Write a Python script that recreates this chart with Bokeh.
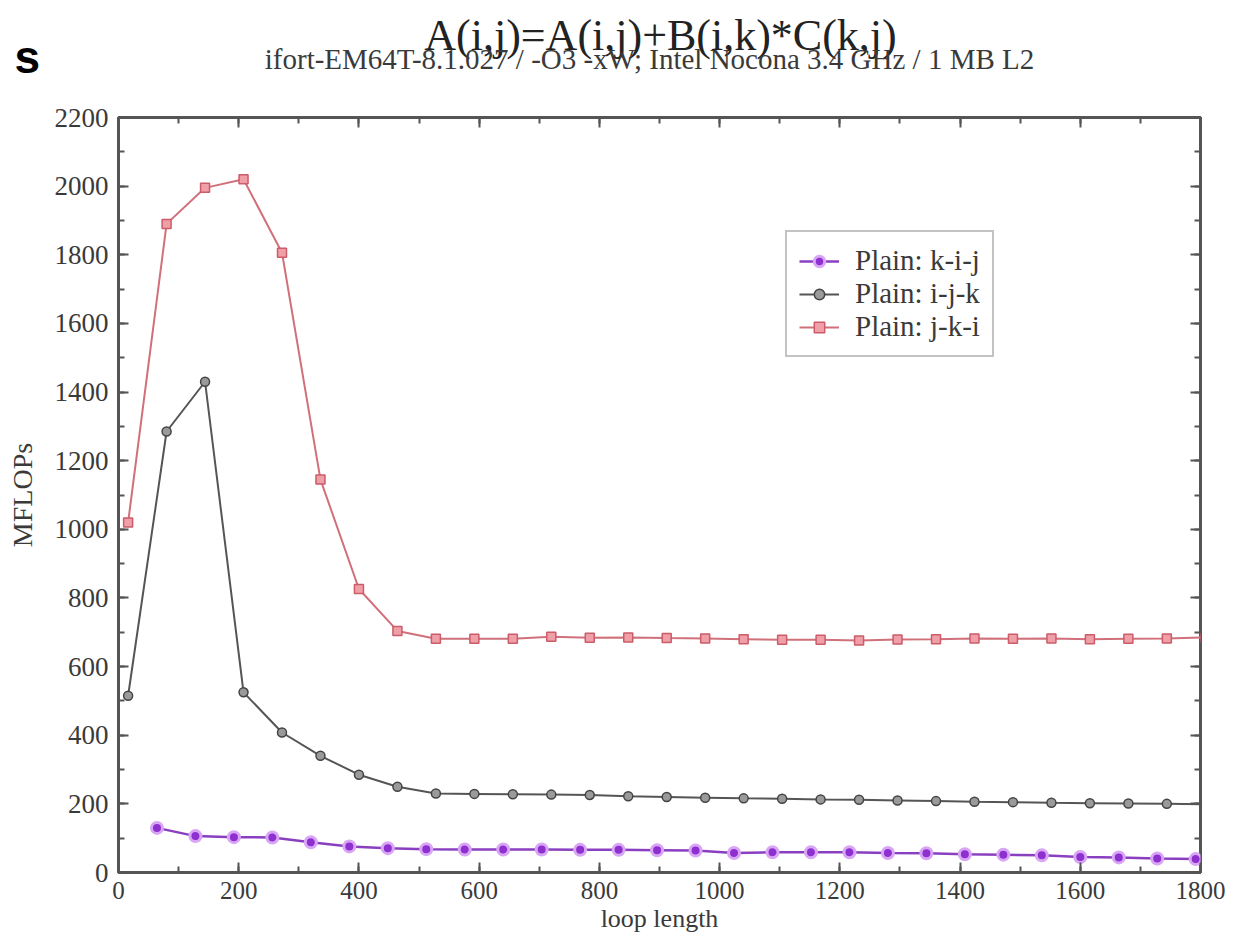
from bokeh.plotting import figure
from bokeh.layouts import column
from bokeh.models import (LinearAxis, Label, Legend, LegendItem, Range1d,
                          SingleIntervalTicker)
from bokeh.embed import file_html
from bokeh.resources import INLINE

# ---------------- data ----------------
x_kij = [64, 128, 192, 256, 320, 384, 448, 512, 576, 640, 704, 768, 832, 896,
         960, 1024, 1088, 1152, 1216, 1280, 1344, 1408, 1472, 1536, 1600, 1664, 1728, 1792]
y_kij = [130, 106, 103, 102, 88, 76, 71, 68, 67, 67, 67, 66, 66, 65,
         64, 57, 59, 59, 59, 57, 56, 53, 52, 50, 45, 44, 41, 39]

x_ijk = [16, 80, 144, 208, 272, 336, 400, 464, 528, 592, 656, 720, 784, 848, 912,
         976, 1040, 1104, 1168, 1232, 1296, 1360, 1424, 1488, 1552, 1616, 1680, 1744, 1808]
y_ijk = [515, 1285, 1430, 525, 408, 340, 285, 250, 230, 229, 228, 227, 226, 222, 220,
         218, 216, 215, 213, 212, 210, 208, 206, 205, 203, 202, 201, 200, 199]

x_jki = x_ijk
y_jki = [1020, 1890, 1995, 2020, 1806, 1145, 826, 704, 681, 681, 681, 687, 684, 685, 683,
         682, 680, 678, 678, 676, 679, 680, 682, 681, 682, 680, 681, 682, 685]

labels = ["Plain: k-i-j", "Plain: i-j-k", "Plain: j-k-i"]

title_text = "A(i,j)=A(i,j)+B(i,k)*C(k,j)"
subtitle_text = "ifort-EM64T-8.1.027 / -O3 -xW; Intel Nocona 3.4 GHz / 1 MB L2"
corner_text = "s"

SERIF = "Liberation Serif"
AXIS_COL = "#555555"
TXT_COL = "#3a3a3a"

W, H = 1236, 942
HEAD = 98                               # height of the header strip
FL, FR, FT, FB = 118, 1200, 117, 872   # frame edges in page pixels

# ---------------- header (title, subtitle, corner letter) ----------------
# the header's frame is aligned with the main frame (left edge at FL)
head = figure(width=W, height=HEAD, output_backend="svg", toolbar_location=None,
              x_axis_type=None, y_axis_type=None, x_range=Range1d(0, 1),
              y_range=Range1d(0, 1), min_border=0, outline_line_color=None,
              background_fill_color="white", border_fill_color="white")
head.add_layout(Label(x=660 - FL, y=HEAD - 35, x_units="screen", y_units="screen",
                      text=title_text, text_font=SERIF, text_font_size="44px",
                      text_align="center", text_baseline="middle", text_color="#222222"))
head.add_layout(Label(x=649 - FL, y=HEAD - 58, x_units="screen", y_units="screen",
                      text=subtitle_text, text_font=SERIF, text_font_size="29px",
                      text_align="center", text_baseline="middle", text_color=TXT_COL))
head.add_layout(Label(x=-78, y=HEAD - 56, x_units="screen", y_units="screen",
                      text=corner_text, text_font="Liberation Sans", text_font_size="46px",
                      text_font_style="bold", text_baseline="alphabetic", text_color="black"),
                "left")

# ---------------- main plot ----------------
p = figure(width=W, height=H - HEAD, output_backend="svg", toolbar_location=None,
           x_range=Range1d(0, 1800), y_range=Range1d(0, 2200), title=None,
           min_border_left=FL, min_border_right=W - FR, min_border_top=FT - HEAD,
           min_border_bottom=H - FB, background_fill_color="white",
           border_fill_color="white")
p.xgrid.visible = False
p.ygrid.visible = False
p.outline_line_color = AXIS_COL
p.outline_line_width = 3

def style_axis(ax, show_labels, size="27px"):
    ax.axis_line_color = None
    ax.major_tick_in = 10
    ax.major_tick_out = 0
    ax.minor_tick_in = 6
    ax.minor_tick_out = 0
    ax.major_tick_line_color = AXIS_COL
    ax.major_tick_line_width = 2
    ax.minor_tick_line_color = AXIS_COL
    ax.minor_tick_line_width = 2
    ax.major_label_text_font = SERIF
    ax.major_label_text_font_size = size if show_labels else "0px"
    ax.major_label_text_color = TXT_COL if show_labels else None
    ax.axis_label_text_font = SERIF
    ax.axis_label_text_font_style = "normal"
    ax.axis_label_text_color = TXT_COL

for ax in p.xaxis:
    ax.ticker = SingleIntervalTicker(interval=200, num_minor_ticks=2)
    style_axis(ax, True, "25px")
    ax.major_label_standoff = 9
    ax.axis_label = "loop length"
    ax.axis_label_text_font_size = "26px"
    ax.axis_label_standoff = 2
for ax in p.yaxis:
    ax.ticker = SingleIntervalTicker(interval=200, num_minor_ticks=2)
    style_axis(ax, True, "27px")
    ax.major_label_standoff = 10
    ax.axis_label = "MFLOPs"
    ax.axis_label_text_font_size = "28px"
    ax.axis_label_standoff = 14

ax_r = LinearAxis(ticker=SingleIntervalTicker(interval=200, num_minor_ticks=2))
style_axis(ax_r, False)
p.add_layout(ax_r, "right")
ax_t = LinearAxis(ticker=SingleIntervalTicker(interval=200, num_minor_ticks=2))
style_axis(ax_t, False)
ax_t.major_label_standoff = 0
p.add_layout(ax_t, "above")

# series
purple_line = p.line(x_kij, y_kij, line_color="#8a3fc0", line_width=2.5)
purple_pts = p.scatter(x_kij, y_kij, marker="circle", size=11, fill_color="#8e2fd0",
                       line_color="#d9a6f5", line_width=3)
black_line = p.line(x_ijk, y_ijk, line_color="#555555", line_width=2)
black_pts = p.scatter(x_ijk, y_ijk, marker="circle", size=9, fill_color="#9a9a9a",
                      line_color="#444444", line_width=1.5)
red_line = p.line(x_jki, y_jki, line_color="#d0707a", line_width=2)
red_pts = p.scatter(x_jki, y_jki, marker="square", size=9, fill_color="#ef9fa8",
                    line_color="#cc5c68", line_width=1.5)

legend = Legend(items=[
    LegendItem(label=labels[0], renderers=[purple_line, purple_pts]),
    LegendItem(label=labels[1], renderers=[black_line, black_pts]),
    LegendItem(label=labels[2], renderers=[red_line, red_pts]),
], location=(785 - FL, FB - 357))
legend.label_text_font = SERIF
legend.label_text_font_size = "29px"
legend.label_text_color = TXT_COL
legend.glyph_width = 40
legend.glyph_height = 26
legend.label_height = 26
legend.spacing = 0
legend.padding = 12
legend.label_standoff = 16
legend.border_line_color = "#888888"
legend.border_line_width = 2
legend.background_fill_color = "white"
p.add_layout(legend, "center")

layout = column(head, p, spacing=0)
open("out.html", "w").write(file_html(layout, INLINE))
